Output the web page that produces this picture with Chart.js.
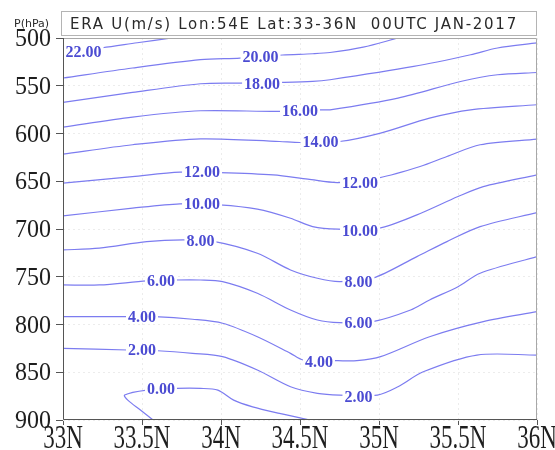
<!DOCTYPE html>
<html>
<head>
<meta charset="utf-8">
<script src="https://cdn.jsdelivr.net/npm/chart.js@4/dist/chart.umd.min.js"></script>
<style>
  html, body { margin: 0; padding: 0; background: #fff; }
  #wrap { width: 555px; height: 450px; }
</style>
</head>
<body>
<div id="wrap"><canvas id="ChartU" width="555" height="450"></canvas></div>
<script>
(function () {
  "use strict";

  // Axes
  const latTicks  = [33, 33.5, 34, 34.5, 35, 35.5, 36];
  const presTicks = [500, 550, 600, 650, 700, 750, 800, 850, 900];

  // Contours of U (m/s): latitude (N) / pressure (hPa)
  const lat22 = [33.00, 33.25, 33.47, 33.69];
  const p22   = [515.0, 510.2, 505.0, 500.0];

  const lat20 = [33.00, 33.44, 33.87, 34.12, 34.39, 34.58, 34.69, 34.90, 35.12];
  const p20   = [541.9, 531.4, 522.7, 521.0, 517.8, 516.5, 515.2, 509.6, 500.0];

  const lat18 = [33.00, 33.44, 33.87, 34.12, 34.39, 34.58, 34.69, 35.22, 35.58, 35.75, 36.00];
  const p18   = [567.5, 557.0, 547.9, 547.2, 546.5, 545.5, 543.7, 529.8, 517.5, 510.5, 505.2];

  const lat16 = [33.00, 33.44, 33.87, 34.37, 34.63, 34.69, 35.12, 35.53, 35.75, 36.00];
  const p16   = [593.3, 582.8, 576.2, 576.9, 575.2, 575.2, 562.9, 545.0, 538.5, 536.1];

  const lat14 = [33.00, 33.44, 33.87, 34.37, 34.50, 34.75, 35.01, 35.32, 35.58, 36.00];
  const p14   = [621.6, 611.8, 605.6, 608.4, 609.4, 608.4, 599.6, 583.9, 575.2, 569.9];

  const lat12 = [33.00, 33.44, 33.74, 33.99, 34.33, 34.55, 34.74, 35.00, 35.26, 35.43, 35.64, 36.00];
  const p12   = [652.0, 645.1, 640.5, 640.9, 643.3, 647.8, 651.4, 646.4, 634.6, 624.1, 611.8, 605.9];

  const lat10 = [33.00, 33.44, 33.74, 33.99, 34.23, 34.44, 34.58, 34.74, 35.00, 35.24, 35.50, 35.66, 36.00];
  const p10   = [686.3, 678.2, 673.7, 674.7, 679.2, 688.7, 697.5, 700.2, 699.2, 685.2, 666.0, 655.6, 643.3];

  const lat8 = [33.00, 33.23, 33.53, 33.76, 33.96, 34.23, 34.44, 34.61, 34.75, 34.96, 35.24, 35.43, 35.64, 36.00];
  const p8   = [721.9, 720.1, 713.2, 711.4, 713.2, 725.4, 742.9, 751.6, 755.1, 751.6, 728.9, 713.2, 697.5, 682.8];

  const lat6 = [33.00, 33.23, 33.53, 33.71, 33.87, 34.01, 34.23, 34.44, 34.61, 34.75, 34.96, 35.20, 35.32, 35.50, 35.64, 36.00];
  const p6   = [758.6, 758.6, 754.4, 753.4, 753.4, 755.1, 767.3, 784.8, 795.3, 798.1, 797.0, 784.8, 774.3, 760.4, 746.3, 728.9];

  const lat4 = [33.00, 33.41, 33.58, 33.82, 34.01, 34.23, 34.44, 34.52, 34.74, 34.86, 35.01, 35.32, 35.66, 36.00];
  const p4   = [791.8, 791.8, 791.8, 794.5, 798.7, 812.8, 830.2, 837.2, 837.9, 837.9, 833.7, 812.8, 797.0, 786.6];

  const lat2 = [33.00, 33.41, 33.60, 33.82, 34.01, 34.23, 34.44, 34.61, 34.75, 34.99, 35.12, 35.28, 35.62, 36.00];
  const p2   = [824.9, 826.7, 827.5, 830.2, 833.7, 847.7, 865.2, 872.1, 873.9, 873.9, 865.2, 849.5, 832.0, 832.0];

  const lat0 = [33.57, 33.49, 33.41, 33.39, 33.53, 33.72, 33.87, 33.98, 34.08, 34.20, 34.37, 34.56];
  const p0   = [900.0, 889.6, 879.2, 873.9, 868.7, 866.9, 866.9, 868.7, 879.2, 886.2, 893.1, 900.0];

  // Contour labels
  const labelText = ['22.00', '20.00', '18.00', '16.00', '14.00', '12.00', '12.00', '10.00', '10.00',
                     '8.00', '8.00', '6.00', '6.00', '4.00', '4.00', '2.00', '2.00', '0.00'];
  const labelLat  = [33.13, 34.25, 34.26, 34.50, 34.63, 33.88, 34.88, 33.88, 34.88,
                     33.87, 34.87, 33.62, 34.87, 33.50, 34.62, 33.50, 34.87, 33.62];
  const labelP    = [514.0, 520.1, 547.9, 576.7, 609.2, 640.1, 651.4, 673.7, 702.0,
                     712.2, 755.1, 754.1, 798.7, 791.8, 839.0, 826.7, 875.7, 866.9];

  const contourLevels = [22, 20, 18, 16, 14, 12, 10, 8, 6, 4, 2, 0];
  const contourLat = [lat22, lat20, lat18, lat16, lat14, lat12, lat10, lat8, lat6, lat4, lat2, lat0];
  const contourP   = [p22, p20, p18, p16, p14, p12, p10, p8, p6, p4, p2, p0];

  // Colors
  const line_blue  = '#7c7cf0';
  const label_blue = '#4b4bd2';
  const text_dark  = '#1e1e1e';
  const grid_gray  = '#ececec';
  const serif      = '"Liberation Serif", "Times New Roman", serif';

  const datasets = contourLevels.map(function (lev, k) {
    return {
      label: lev.toFixed(2),
      data: contourLat[k].map(function (x, i) { return { x: x, y: contourP[k][i] }; }),
      showLine: true,
      borderColor: line_blue,
      borderWidth: 1.2,
      tension: 0.3,
      pointRadius: 0,
      fill: false
    };
  });

  // Labels, frame, tick labels and header drawn on top
  const decor = {
    id: 'decor',
    afterDraw: function (chart) {
      const ctx = chart.ctx;
      const a = chart.chartArea;
      const xs = chart.scales.x;
      const ys = chart.scales.y;

      // contour labels with white background
      ctx.save();
      ctx.beginPath();
      ctx.rect(a.left, a.top, a.right - a.left, a.bottom - a.top);
      ctx.clip();
      ctx.font = 'bold 16px ' + serif;
      ctx.textAlign = 'center';
      ctx.textBaseline = 'middle';
      labelText.forEach(function (t, i) {
        const px = xs.getPixelForValue(labelLat[i]);
        const py = ys.getPixelForValue(labelP[i]);
        const w = ctx.measureText(t).width;
        ctx.fillStyle = '#fff';
        ctx.fillRect(px - w / 2 - 2, py - 6, w + 4, 12);
        ctx.fillStyle = label_blue;
        ctx.fillText(t, px, py + 1);
      });
      ctx.restore();

      // frame
      ctx.save();
      ctx.lineWidth = 1;
      ctx.strokeStyle = '#a8a8a8';
      ctx.beginPath();
      ctx.moveTo(a.left, a.top + 0.5);
      ctx.lineTo(a.right - 0.5, a.top + 0.5);
      ctx.lineTo(a.right - 0.5, a.bottom);
      ctx.stroke();
      ctx.strokeStyle = '#555';
      ctx.beginPath();
      ctx.moveTo(a.left + 0.5, a.top);
      ctx.lineTo(a.left + 0.5, a.bottom - 0.5);
      ctx.lineTo(a.right, a.bottom - 0.5);
      ctx.stroke();
      ctx.restore();

      // tick labels (tall serif, as in the original)
      ctx.save();
      ctx.fillStyle = text_dark;
      ctx.font = '23px ' + serif;
      ctx.textAlign = 'center';
      ctx.textBaseline = 'alphabetic';
      xs.ticks.forEach(function (t) {
        const px = xs.getPixelForValue(t.value);
        ctx.save();
        ctx.translate(px, 448);
        ctx.scale(1, 1.5);
        ctx.fillText(t.label, 0, 0);
        ctx.restore();
      });
      ctx.font = '24px ' + serif;
      ctx.textAlign = 'right';
      ys.ticks.forEach(function (t) {
        const py = ys.getPixelForValue(t.value);
        ctx.save();
        ctx.translate(51, py + 8);
        ctx.scale(1, 1.06);
        ctx.fillText(t.label, 0, 0);
        ctx.restore();
      });
      ctx.restore();

      // header box
      ctx.save();
      ctx.fillStyle = '#fff';
      ctx.fillRect(62, 12, 474, 23);
      ctx.strokeStyle = '#b4b4b4';
      ctx.lineWidth = 1;
      ctx.strokeRect(61.5, 11.5, 475, 24);
      ctx.fillStyle = '#2a2a2a';
      ctx.font = '15px "DejaVu Sans"';
      ctx.textBaseline = 'alphabetic';
      ctx.textAlign = 'left';
      const title = 'ERA U(m/s) Lon:54E Lat:33-36N  00UTC JAN-2017';
      const tw = ctx.measureText(title).width;
      if ('letterSpacing' in ctx) {
        ctx.letterSpacing = ((448 - tw) / title.length).toFixed(2) + 'px';
      }
      ctx.fillText(title, 70, 29);
      if ('letterSpacing' in ctx) ctx.letterSpacing = '0px';
      ctx.font = '11px "DejaVu Sans"';
      ctx.fillText('P(hPa)', 14, 27);
      ctx.restore();
    }
  };

  const chart_u = document.getElementById('ChartU');
  if (chart_u != null) {
    const ctx = chart_u.getContext('2d');
    new Chart(ctx, {
      type: 'scatter',
      data: { datasets: datasets },
      plugins: [decor],
      options: {
        responsive: false,
        animation: false,
        layout: { padding: { top: 38, right: 18, left: 0, bottom: 0 } },
        plugins: {
          legend: { display: false },
          tooltip: { enabled: false }
        },
        scales: {
          x: {
            type: 'linear',
            min: 33,
            max: 36,
            afterBuildTicks: function (scale) {
              scale.ticks = latTicks.map(function (v) { return { value: v }; });
            },
            afterFit: function (scale) { scale.height = 30; },
            ticks: {
              display: false,
              callback: function (value) { return value + 'N'; }
            },
            grid: {
              color: grid_gray,
              tickColor: '#555',
              tickLength: 5
            },
            border: { display: false, dash: [2, 3] }
          },
          y: {
            type: 'linear',
            reverse: true,
            min: 500,
            max: 900,
            afterBuildTicks: function (scale) {
              scale.ticks = presTicks.map(function (v) { return { value: v }; });
            },
            afterFit: function (scale) { scale.width = 63; },
            ticks: {
              display: false,
              callback: function (value) { return String(value); }
            },
            grid: {
              color: grid_gray,
              tickColor: '#555',
              tickLength: 7
            },
            border: { display: false, dash: [2, 3] }
          }
        }
      }
    });
  }
})();
</script>
</body>
</html>
